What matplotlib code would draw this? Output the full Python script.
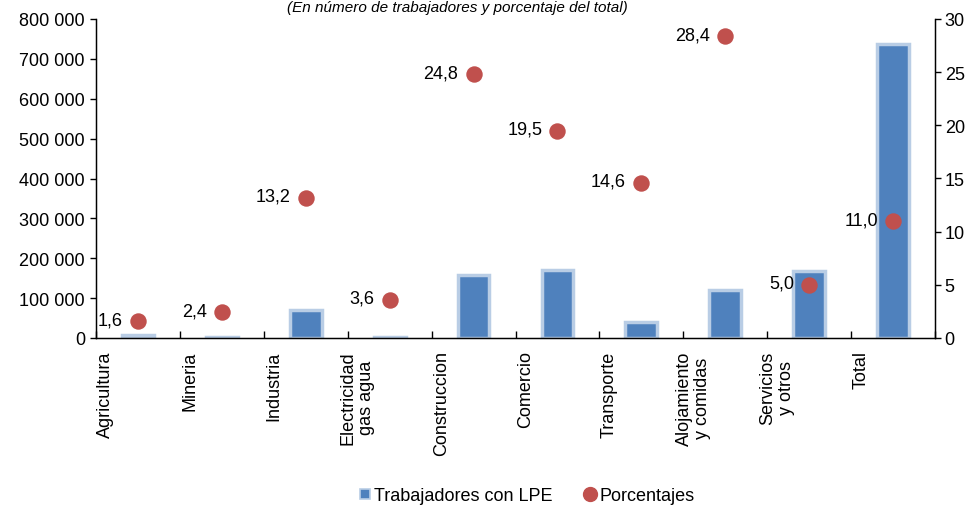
import matplotlib
matplotlib.use("Agg")
import matplotlib.pyplot as plt
import matplotlib.transforms as mtransforms
from matplotlib.lines import Line2D
import numpy as np

plt.rcParams['font.family'] = ['Liberation Sans', 'DejaVu Sans']

categories = ["Agricultura", "Mineria", "Industria", "Electricidad\ngas agua",
              "Construccion", "Comercio", "Transporte", "Alojamiento\ny comidas",
              "Servicios\ny otros", "Total"]
trabajadores = [7000, 3000, 70000, 2000, 158000, 170000, 40000, 120000, 168000, 737000]
porcentajes = [1.6, 2.4, 13.2, 3.6, 24.8, 19.5, 14.6, 28.4, 5.0, 11.0]
pct_labels = ["1,6", "2,4", "13,2", "3,6", "24,8", "19,5", "14,6", "28,4", "5,0", "11,0"]
left_ticks = [0, 100000, 200000, 300000, 400000, 500000, 600000, 700000, 800000]
right_ticks = [0, 5, 10, 15, 20, 25, 30]

BAR_COLOR = "#4f81bd"
BAR_EDGE = "#b9cde5"
DOT_COLOR = "#c0504d"
FS = 13

fig = plt.figure(figsize=(9.73, 5.10), dpi=100)
ax = fig.add_axes([96/973, 1-339/510, (935-96)/973, (339-20)/510])
ax2 = ax.twinx()

x = np.arange(len(categories))
ax.bar(x, trabajadores, width=0.38, color=BAR_COLOR, edgecolor=BAR_EDGE, linewidth=2.5, zorder=2)
ax.set_xlim(-0.5, len(categories) - 0.5)
ax.set_ylim(0, 800000)
ax.set_yticks(left_ticks)
ax.set_yticklabels([f"{v:,}".replace(",", " ") for v in left_ticks], fontsize=FS)
ax.tick_params(axis='y', direction='out', length=4, width=1, pad=4)

# x ticks at boundaries, labels at centers
ax.set_xticks(np.arange(len(categories) + 1) - 0.5)
ax.set_xticklabels([])
ax.tick_params(axis='x', which='major', direction='in', length=5, width=1)
ax.set_xticks(x, minor=True)
ax.set_xticklabels(categories, minor=True, rotation=90, fontsize=FS, va='top', ha='center',
                   linespacing=1.1)
ax.tick_params(axis='x', which='minor', length=0, pad=9)
offset = mtransforms.ScaledTranslation(-32/100, 0, fig.dpi_scale_trans)
for lbl in ax.get_xticklabels(minor=True):
    lbl.set_transform(lbl.get_transform() + offset)

ax.spines['top'].set_visible(False)
ax2.spines['top'].set_visible(False)
for sp in ['left', 'bottom']:
    ax.spines[sp].set_linewidth(1)
ax2.spines['right'].set_linewidth(1)

ax2.scatter(x, porcentajes, s=140, color=DOT_COLOR, zorder=3, linewidths=0)
ax2.set_ylim(0, 30)
ax2.set_yticks(right_ticks)
ax2.set_yticklabels([str(v) for v in right_ticks], fontsize=FS)
ax2.tick_params(axis='y', direction='out', length=4, width=1, pad=3)

for xi, yi, lab in zip(x, porcentajes, pct_labels):
    ax2.annotate(lab, (xi, yi), xytext=(-11, 1), textcoords='offset points',
                 ha='right', va='center', fontsize=FS)

# title (partly hidden in the reference)
fig.text(457/973, 1 - 1/510, "(En número de trabajadores y porcentaje del total)",
         ha='center', va='top', fontsize=11, style='italic')

handles = [Line2D([0], [0], marker='s', linestyle='none', markersize=7,
                  markerfacecolor=BAR_COLOR, markeredgecolor=BAR_EDGE, markeredgewidth=1.2),
           Line2D([0], [0], marker='o', linestyle='none', markersize=10,
                  markerfacecolor=DOT_COLOR, markeredgecolor=DOT_COLOR)]
fig.legend(handles, ["Trabajadores con LPE", "Porcentajes"], loc='center',
           bbox_to_anchor=(525/973, 1 - 497/510), ncol=2, frameon=False, fontsize=FS,
           handletextpad=0.0, columnspacing=1.6, handlelength=1.0)

fig.savefig("out.png", dpi=100)
